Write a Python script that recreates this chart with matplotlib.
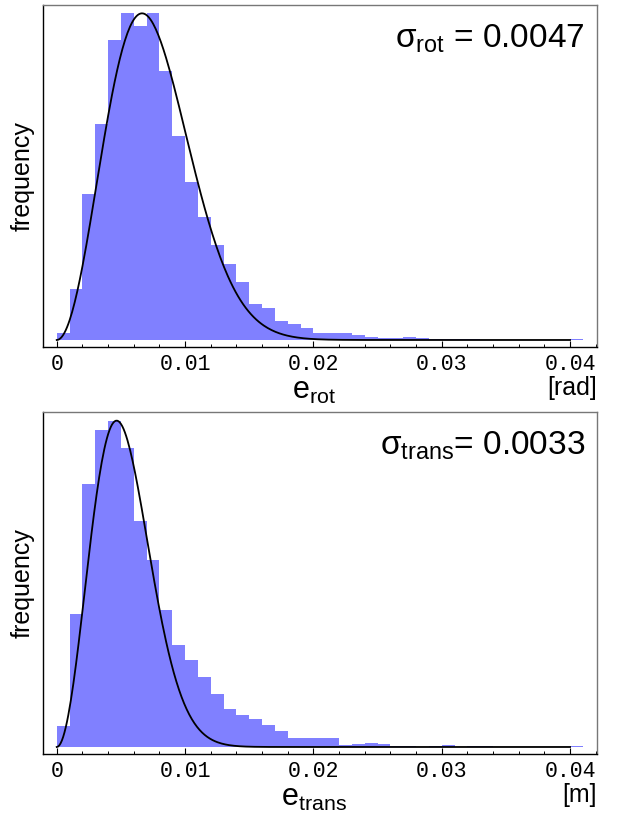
import numpy as np
import matplotlib
matplotlib.use('Agg')
import matplotlib.pyplot as plt
from matplotlib.ticker import MultipleLocator, FuncFormatter

plt.rcParams['font.family'] = ['Liberation Sans', 'DejaVu Sans']
plt.rcParams['mathtext.fontset'] = 'custom'
plt.rcParams['mathtext.rm'] = 'Liberation Sans'
plt.rcParams['mathtext.it'] = 'Liberation Sans:italic'
plt.rcParams['mathtext.sf'] = 'Liberation Sans'

# bin edges: 0 .. 0.041, width 0.001
BIN_EDGES = np.round(np.arange(0, 0.0411, 0.001), 4)

# rotation error histogram (arbitrary frequency units)
ROT_COUNTS = [22, 153, 438, 648, 897, 978, 940, 978, 804, 612,
              474, 369, 285, 228, 174, 108, 96, 56, 47, 35,
              22, 22, 22, 15, 10, 7, 7, 10, 7, 4,
              4, 4, 4, 0, 0, 0, 0, 0, 0, 0, 2]
ROT_SIGMA = 0.0047
ROT_PEAK = 978

# translation error histogram
TRANS_COUNTS = [62, 398, 788, 950, 977, 896, 677, 560, 410, 305,
                260, 210, 158, 113, 95, 83, 65, 49, 27, 27,
                27, 27, 5, 9, 12, 9, 3, 3, 0, 3,
                6, 0, 3, 3, 0, 0, 0, 0, 0, 0, 2]
TRANS_SIGMA = 0.0033
TRANS_PEAK = 977

X_TICKS = [0, 0.01, 0.02, 0.03, 0.04]
X_TICK_LABELS = ['0', '0.01', '0.02', '0.03', '0.04']

BAR_COLOR = '#8080ff'


def maxwell(x, a):
    return np.sqrt(2 / np.pi) * x ** 2 * np.exp(-x ** 2 / (2 * a ** 2)) / a ** 3


def draw_panel(ax, counts, sigma, peak, sig_label, x_label, unit):
    ax.stairs(counts, BIN_EDGES, fill=True, color=BAR_COLOR, linewidth=0)
    xs = np.linspace(0, 0.04, 400)
    ys = maxwell(xs, sigma)
    ax.plot(xs, ys / ys.max() * peak, color='black', linewidth=1.3)

    ax.set_xlim(-0.00107, 0.0421)
    ax.set_ylim(-21, 1003)
    ax.set_yticks([])
    ax.xaxis.set_major_locator(MultipleLocator(0.01))
    ax.xaxis.set_minor_locator(MultipleLocator(0.002))
    ax.xaxis.set_major_formatter(FuncFormatter(
        lambda v, p: X_TICK_LABELS[X_TICKS.index(round(v, 2))] if round(v, 2) in X_TICKS else ''))
    ax.tick_params(axis='x', which='major', direction='in', length=4, width=0.8,
                   pad=5, labelsize=15.5)
    ax.tick_params(axis='x', which='minor', direction='in', length=2.2, width=0.7)
    for lab in ax.get_xticklabels():
        lab.set_fontfamily('Liberation Mono')

    for side in ['left', 'bottom']:
        ax.spines[side].set_color('black')
        ax.spines[side].set_linewidth(1.0)
    for side in ['top', 'right']:
        ax.spines[side].set_color('#777777')
        ax.spines[side].set_linewidth(1.0)

    ax.set_ylabel('frequency', fontsize=18, labelpad=6)
    ax.text(0.978, 0.9, sig_label, transform=ax.transAxes, ha='right', va='center',
            fontsize=24)
    ax.text(0.49, -0.128, x_label, transform=ax.transAxes, ha='center', va='center',
            fontsize=22)
    ax.text(1.0, -0.12, unit, transform=ax.transAxes, ha='right', va='center',
            fontsize=18)


fig = plt.figure(figsize=(6.21, 8.16), dpi=100)
ax1 = fig.add_axes([43 / 621, 1 - 347 / 816, 554 / 621, 342 / 816])
ax2 = fig.add_axes([43 / 621, 1 - 754 / 816, 554 / 621, 342 / 816])

draw_panel(ax1, ROT_COUNTS, ROT_SIGMA, ROT_PEAK,
           r'$\mathrm{\sigma}_{\mathrm{rot}}$ = 0.0047', r'$\mathrm{e}_{\mathrm{rot}}$', '[rad]')
draw_panel(ax2, TRANS_COUNTS, TRANS_SIGMA, TRANS_PEAK,
           r'$\mathrm{\sigma}_{\mathrm{trans}}$= 0.0033', r'$\mathrm{e}_{\mathrm{trans}}$', '[m]')

plt.savefig('out.png', dpi=100, facecolor='white')
